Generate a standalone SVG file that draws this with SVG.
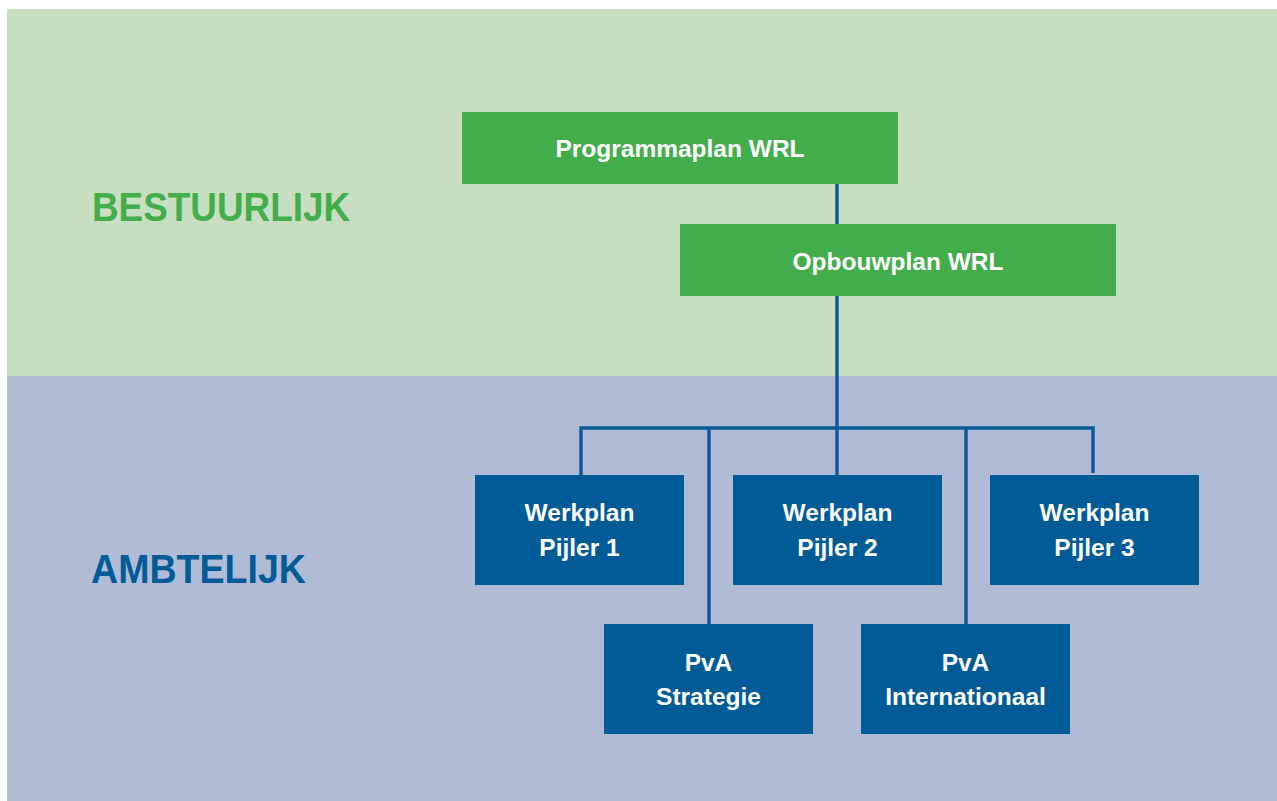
<svg xmlns="http://www.w3.org/2000/svg" width="1277" height="801" viewBox="0 0 1277 801">
<style>
.lbl{font-family:"Liberation Sans",Arial,sans-serif;font-weight:bold;}
.nt{font-family:"Liberation Sans",Arial,sans-serif;font-weight:bold;font-size:24.5px;fill:#ffffff;text-anchor:middle;}
.g{fill:#42ad4a;}
.b{fill:#005b96;}
.c{stroke:#0b5c96;stroke-width:3.5;fill:none;}
</style>
<rect x="0" y="0" width="1277" height="801" fill="#ffffff"/>
<rect x="7" y="9" width="1270" height="367" fill="#c7dfc0"/>
<rect x="7" y="376" width="1270" height="425" fill="#b0bbd5"/>
<text class="lbl" x="92" y="221" font-size="41" fill="#42ad4a" textLength="258" lengthAdjust="spacingAndGlyphs">BESTUURLIJK</text>
<text class="lbl" x="91" y="583" font-size="41" fill="#005b96" textLength="215" lengthAdjust="spacingAndGlyphs">AMBTELIJK</text>
<g id="connectors">
<line class="c" x1="837" y1="184" x2="837" y2="224"/>
<line class="c" x1="837" y1="296" x2="837" y2="475"/>
<polyline class="c" points="581,475 581,428 1093,428 1093,473"/>
<line class="c" x1="709" y1="428" x2="709" y2="624"/>
<line class="c" x1="966" y1="428" x2="966" y2="624"/>
</g>
<g id="programmaplan">
<rect class="g" x="462" y="112" width="436" height="72"/>
<text class="nt" x="680" y="157">Programmaplan WRL</text>
</g>
<g id="opbouwplan">
<rect class="g" x="680" y="224" width="436" height="72"/>
<text class="nt" x="898" y="270">Opbouwplan WRL</text>
</g>
<g id="pijler1">
<rect class="b" x="475" y="475" width="209" height="110"/>
<text class="nt" x="579.5" y="521">Werkplan</text>
<text class="nt" x="579.5" y="556">Pijler 1</text>
</g>
<g id="pijler2">
<rect class="b" x="733" y="475" width="209" height="110"/>
<text class="nt" x="837.5" y="521">Werkplan</text>
<text class="nt" x="837.5" y="556">Pijler 2</text>
</g>
<g id="pijler3">
<rect class="b" x="990" y="475" width="209" height="110"/>
<text class="nt" x="1094.5" y="521">Werkplan</text>
<text class="nt" x="1094.5" y="556">Pijler 3</text>
</g>
<g id="strategie">
<rect class="b" x="604" y="624" width="209" height="110"/>
<text class="nt" x="708.5" y="671">PvA</text>
<text class="nt" x="708.5" y="705">Strategie</text>
</g>
<g id="internationaal">
<rect class="b" x="861" y="624" width="209" height="110"/>
<text class="nt" x="965.5" y="671">PvA</text>
<text class="nt" x="965.5" y="705">Internationaal</text>
</g>
</svg>
